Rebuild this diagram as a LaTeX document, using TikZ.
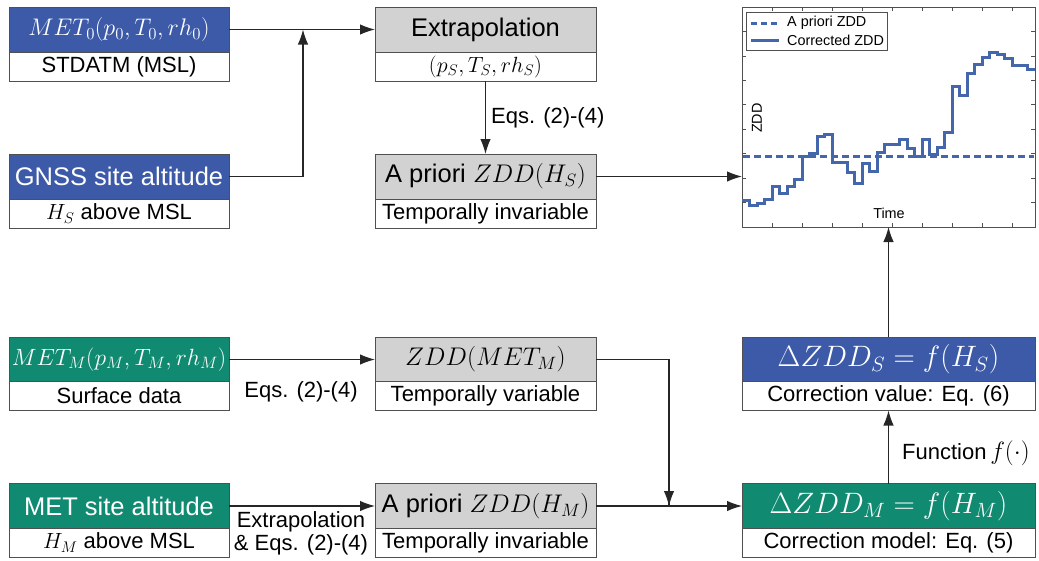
\RequirePackage{fix-cm}
\documentclass[tikz,border=0pt]{standalone}
\usepackage[no-math]{fontspec}
\setmainfont{Liberation Sans}
\usetikzlibrary{arrows.meta}
\definecolor{hblue}{RGB}{60,90,168}
\definecolor{hgreen}{RGB}{16,138,112}
\definecolor{hgray}{RGB}{210,210,210}
\definecolor{bord}{RGB}{80,80,80}
\definecolor{zline}{RGB}{68,102,170}
\tikzset{
  box/.style={draw=bord, line width=0.8pt, inner sep=0pt, outer sep=0pt, rectangle, align=center},
  hdr/.style={box, minimum height=45pt, font=\fontsize{25.5}{30}\selectfont},
  sub/.style={box, fill=white, minimum height=29pt, font=\fontsize{22}{26}\selectfont},
  wl/.style={minimum width=220pt}, wm/.style={minimum width=221pt}, wr/.style={minimum width=293pt},
  blueh/.style={hdr, fill=hblue, text=white},
  greenh/.style={hdr, fill=hgreen, text=white},
  grayh/.style={hdr, fill=hgray, text=black},
  arr/.style={-{Latex[length=15pt,width=10.5pt]}, line width=1.2pt, draw=black!85},
  lbl/.style={font=\fontsize{22}{26}\selectfont, inner sep=0pt, align=center},
  small/.style={font=\fontsize{14.4}{17}\selectfont, inner sep=0pt},
  zddline/.style={draw=zline, line width=3pt},
}
\begin{document}
\begin{tikzpicture}[x=1pt,y=-1pt]
\useasboundingbox (0,0) rectangle (1039,560);
% left column
\node[blueh,wl,font=\fontsize{24}{28}\selectfont] (met0) at (119,29.5) {$MET_0(p_0,T_0,rh_0)$};
\node[sub,wl] (met0s) at (119,66.5) {STDATM (MSL)};
\node[blueh,wl] (gnss) at (119,176.5) {GNSS site altitude};
\node[sub,wl] (gnsss) at (119,213.5) {$H_S$ above MSL};
\node[greenh,wl,font=\fontsize{23.5}{28}\selectfont] (metm) at (119,359.5) {$MET_M(p_M,T_M,rh_M)$};
\node[sub,wl] (metms) at (119,396) {Surface data};
\node[greenh,wl] (mets) at (119,506) {MET site altitude};
\node[sub,wl] (metss) at (119,542.5) {$H_M$ above MSL};
% middle column
\node[grayh,wm] (extr) at (485.5,29.5) {Extrapolation};
\node[sub,wm] (extrs) at (485.5,66.5) {$(p_S,T_S,rh_S)$};
\node[grayh,wm] (aprs) at (485.5,176.5) {A priori $ZDD(H_S)$};
\node[sub,wm] (aprss) at (485.5,213.5) {Temporally invariable};
\node[grayh,wm] (zddm) at (485.5,359.5) {$ZDD(MET_M)$};
\node[sub,wm] (zddms) at (485.5,396) {Temporally variable};
\node[grayh,wm] (aprm) at (485.5,506) {A priori $ZDD(H_M)$};
\node[sub,wm] (aprms) at (485.5,542.5) {Temporally invariable};
% right column
\node[blueh,wr,font=\fontsize{29.5}{34}\selectfont] (dzs) at (888.5,359.5) {$\Delta ZDD_S=f(H_S)$};
\node[sub,wr] (dzss) at (888.5,396) {Correction value: Eq. (6)};
\node[greenh,wr,font=\fontsize{29.5}{34}\selectfont] (dzm) at (888.5,506) {$\Delta ZDD_M=f(H_M)$};
\node[sub,wr] (dzms) at (888.5,542.5) {Correction model: Eq. (5)};
% plot
\node[draw=bord, line width=0.8pt, minimum width=293pt, minimum height=220pt, inner sep=0pt, outer sep=0pt] (plot) at (888.5,117) {};
\foreach \k in {1,...,8} {
  \draw[bord, line width=0.6pt] (742,{7+24.444*\k}) -- ++(4,0);
  \draw[bord, line width=0.6pt] (1035,{7+24.444*\k}) -- ++(-4,0);
}
\foreach \k in {0,...,8} {
  \draw[bord, line width=0.6pt] ({772+30*\k},227) -- ++(0,-4);
  \draw[bord, line width=0.6pt] ({772+30*\k},7) -- ++(0,4);
}
\draw[zddline, dash pattern=on 7pt off 4pt] (743,156) -- (1034,156);
\draw[zddline, line join=miter] (743,200)
  \foreach \v [count=\k from 0] in {200,205,203,199,186,193,186,179,156,153,136,134,162,162,172,183,163,171,152,144,144,139,148,156,139,154,147,132,86,95,73,64,57,52,54,58,65,65,69}
  { -- ({742+7.5*\k},\v) -- ({749.5+7.5*\k},\v) };
\node[small, rotate=90] (ylab) at (757,118) {ZDD};
\node[small] (xlab) at (889,213) {Time};
\node[draw=bord, line width=0.8pt, fill=white, minimum width=141pt, minimum height=38pt, inner sep=0pt] (leg) at (816.5,31) {};
\draw[zddline, dash pattern=on 6pt off 4pt] (751,23) -- (779,23);
\draw[zddline] (751,40) -- (779,40);
\node[small, anchor=west] (leg1) at (787,23) {A priori ZDD};
\node[small, anchor=west] (leg2) at (787,40) {Corrected ZDD};
% connectors
\coordinate (j1) at (303,29.5);
\coordinate (j2) at (669,506);
\draw[arr] (met0.east) -- (extr.west);
\draw[arr] (gnss.east) -| (j1);
\draw[arr] (extrs.south) -- node[lbl, anchor=west, xshift=5pt] {Eqs. (2)-(4)} (aprs.north);
\draw[arr] (aprs.east) -- (aprs.east -| plot.west);
\draw[arr] (metm.east) -- (zddm.west);
\node[lbl] (l1) at (301,392) {Eqs. (2)-(4)};
\draw[arr] (mets.east) -- (aprm.west);
\node[lbl, align=center] (l2) at (301,533) {Extrapolation\\[-3pt]\& Eqs. (2)-(4)};
\draw[line width=1.2pt, draw=black!85] (zddm.east) -| (j2);
\draw[arr] (zddm.east -| j2) -- (j2);
\draw[arr] (aprm.east) -- (dzm.west);
\draw[arr] (dzm.north) -- (dzss.south);
\node[lbl, anchor=west] (l3) at (902,453) {Function\,{\fontsize{25}{28}\selectfont$f(\cdot)$}};
\draw[arr] (dzs.north) -- (dzs.north |- plot.south);
\end{tikzpicture}
\end{document}
